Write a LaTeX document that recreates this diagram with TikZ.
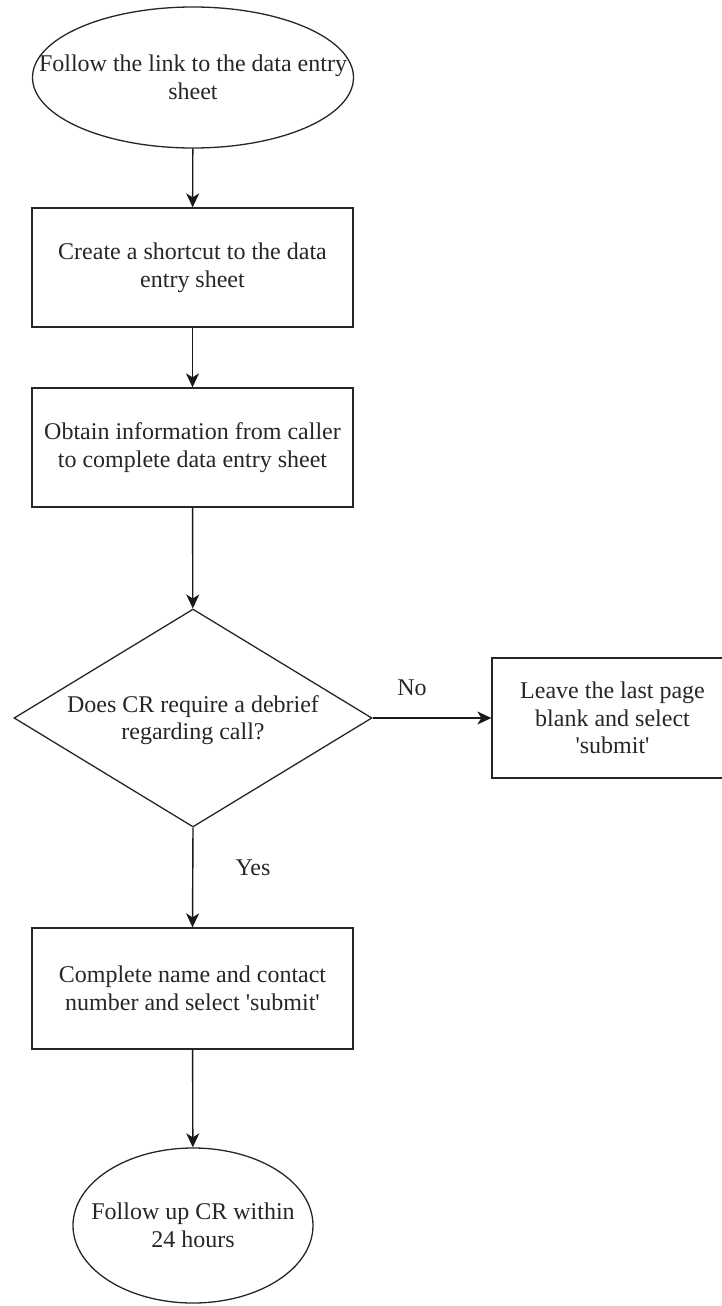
\documentclass[tikz,border=0pt]{standalone}
\usepackage{fontspec}
\setmainfont{Liberation Serif}
\usetikzlibrary{shapes.geometric,arrows.meta}
\begin{document}
\begin{tikzpicture}[x=1pt,y=1pt,
  every node/.style={font=\fontsize{24}{27.6}\selectfont, align=center, inner sep=0pt, text=black!85},
  every label/.style={font=\fontsize{24}{27.6}\selectfont, align=center, inner sep=0pt, text=black!85},
  shape line/.style={draw=black!85, line width=1.3pt},
  procbox/.style={shape line, rectangle, minimum width=321pt, minimum height=119pt},
  termnode/.style={shape line, ellipse},
  decnode/.style={shape line, diamond, aspect=1.64, minimum width=358pt, minimum height=218pt},
  flow/.style={draw=black!90, line width=1.4pt, -{Stealth[length=14pt,width=13pt,inset=4pt]}},
  lbl/.style={}
]
\useasboundingbox (0,0) rectangle (721,-1306);
\node[termnode, minimum width=321pt, minimum height=141pt,
  label={center:Follow the link to the data entry\\sheet}] (start) at (193,-77.5) {};
\node[procbox] (b1) at (192.5,-267.5) {Create a shortcut to the data\\entry sheet};
\node[procbox] (b2) at (192.5,-447.5) {Obtain information from caller\\to complete data entry sheet};
\node[decnode] (d) at (193,-718) {};
\node (dtext) at (193,-720) {Does CR require a debrief\\regarding call?};
\node[procbox, minimum width=241pt, minimum height=120pt] (r) at (612.5,-718) {Leave the last page\\blank and select\\\textquotesingle submit\textquotesingle};
\node[procbox, minimum height=121pt] (b3) at (192.5,-988.5) {Complete name and contact\\number and select \textquotesingle submit\textquotesingle};
\node[termnode, minimum width=240pt, minimum height=155pt,
  label={center:Follow up CR within\\24 hours}] (end) at (193,-1225.5) {};
\node[lbl] (no) at (412,-688) {No};
\node[lbl] (yes) at (253,-868) {Yes};
\draw[flow] (start) -- (b1);
\draw[flow] (b1) -- (b2);
\draw[flow] (b2) -- (d);
\draw[flow] (d.east) -- (r.west);
\draw[flow] (d.south) -- (b3.north);
\draw[flow] (b3) -- (end);
\end{tikzpicture}
\end{document}
